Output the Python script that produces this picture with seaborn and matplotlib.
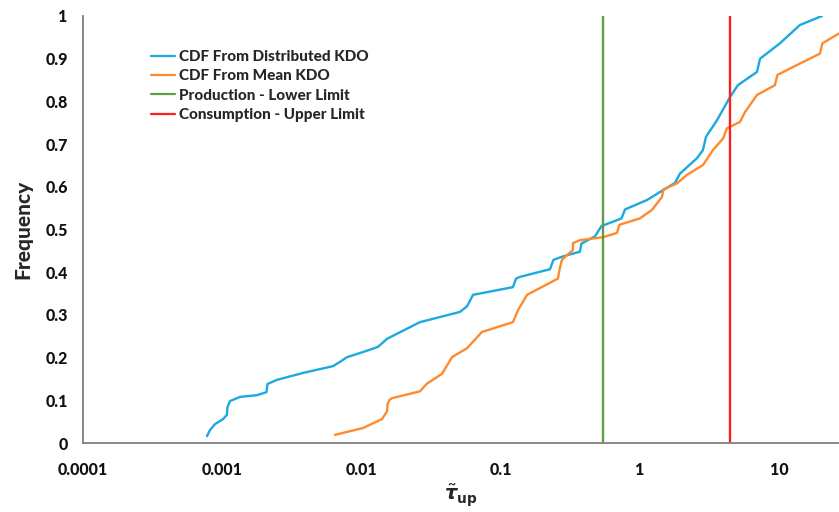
import numpy as np
import pandas as pd
import matplotlib
matplotlib.use("Agg")
import matplotlib.pyplot as plt
import seaborn as sns

# Cumulative distribution of tau_up (distributed KDO)
dist_tau = [0.000778, 0.000816, 0.000887, 0.001014, 0.001081, 0.001091, 0.001137,
            0.001343, 0.001778, 0.002080, 0.002113, 0.002477, 0.003802, 0.006252,
            0.007015, 0.007889, 0.01026, 0.01315, 0.01528, 0.02636, 0.05105, 0.05741,
            0.06339, 0.1227, 0.1291, 0.1377, 0.2265, 0.2399, 0.2805, 0.3715, 0.3811,
            0.4764, 0.5309, 0.7396, 0.7834, 1.127, 1.517, 1.791, 1.945, 2.576, 2.844,
            2.992, 3.589, 4.446, 5.070, 6.950, 7.311, 10.16, 14.16, 20.37]
dist_freq = [0.016, 0.030, 0.044, 0.056, 0.066, 0.084, 0.098, 0.108, 0.112, 0.119,
             0.138, 0.148, 0.164, 0.180, 0.190, 0.201, 0.213, 0.225, 0.244, 0.283,
             0.307, 0.320, 0.347, 0.365, 0.385, 0.389, 0.407, 0.429, 0.437, 0.448,
             0.467, 0.484, 0.508, 0.526, 0.547, 0.569, 0.595, 0.609, 0.631, 0.667,
             0.686, 0.717, 0.756, 0.810, 0.838, 0.869, 0.900, 0.936, 0.979, 1.000]

# Cumulative distribution of tau_up (mean KDO)
mean_tau = [0.006457, 0.01026, 0.01406, 0.01528, 0.01542, 0.01592, 0.01660, 0.02636,
            0.02958, 0.03793, 0.04477, 0.05741, 0.07345, 0.1227, 0.1334, 0.1549,
            0.2582, 0.2673, 0.2761, 0.2999, 0.3311, 0.3311, 0.3715, 0.5445, 0.6855,
            0.7145, 1.002, 1.224, 1.443, 1.479, 1.849, 2.183, 2.844, 3.357, 3.963,
            4.227, 5.248, 5.702, 6.950, 9.354, 9.750, 11.99, 19.72, 20.51, 26.98, 35.16]
mean_freq = [0.019, 0.035, 0.056, 0.074, 0.091, 0.101, 0.105, 0.121, 0.139, 0.162,
             0.201, 0.222, 0.260, 0.283, 0.311, 0.347, 0.385, 0.412, 0.429, 0.440,
             0.452, 0.468, 0.475, 0.482, 0.492, 0.511, 0.526, 0.546, 0.576, 0.594,
             0.608, 0.628, 0.651, 0.686, 0.713, 0.737, 0.752, 0.775, 0.815, 0.838,
             0.862, 0.877, 0.912, 0.936, 0.959, 0.974]

# Limits
production_lower = 0.5445
consumption_upper = 4.446

series_names = ["CDF From Distributed KDO", "CDF From Mean KDO",
                "Production - Lower Limit", "Consumption - Upper Limit"]
series_colors = ["#1BA9E0", "#FF8A2E", "#5E9E44", "#FF1F1F"]

x_ticks = [0.0001, 0.001, 0.01, 0.1, 1, 10]
x_tick_labels = ["0.0001", "0.001", "0.01", "0.1", "1", "10"]
y_ticks = [0, 0.1, 0.2, 0.3, 0.4, 0.5, 0.6, 0.7, 0.8, 0.9, 1]
y_tick_labels = ["0", "0.1", "0.2", "0.3", "0.4", "0.5", "0.6", "0.7", "0.8", "0.9", "1"]

frames = [
    pd.DataFrame({"tau": dist_tau, "freq": dist_freq, "series": series_names[0]}),
    pd.DataFrame({"tau": mean_tau, "freq": mean_freq, "series": series_names[1]}),
    pd.DataFrame({"tau": [production_lower, production_lower], "freq": [0, 1],
                  "series": series_names[2]}),
    pd.DataFrame({"tau": [consumption_upper, consumption_upper], "freq": [0, 1],
                  "series": series_names[3]}),
]
df = pd.concat(frames, ignore_index=True)

sns.set_theme(style="white")
plt.rcParams["font.family"] = ["Lato", "DejaVu Sans"]
plt.rcParams["font.weight"] = "black"
plt.rcParams["lines.solid_joinstyle"] = "round"

fig = plt.figure(figsize=(8.39, 5.12), dpi=100)
ax = fig.add_axes([83 / 839, 1 - 443 / 512, 1 - 83 / 839, (443 - 16) / 512])

sns.lineplot(data=df, x="tau", y="freq", hue="series", hue_order=series_names,
             palette=series_colors, sort=False, estimator=None, units="series",
             linewidth=1.7, ax=ax)

ax.set_xscale("log")
ax.set_xlim(1e-4, 27)
ax.set_ylim(0, 1)
ax.set_xticks(x_ticks)
ax.set_xticklabels(x_tick_labels)
ax.set_yticks(y_ticks)
ax.set_yticklabels(y_tick_labels)
ax.minorticks_off()
ax.tick_params(axis="both", length=0, labelsize=11.5, colors="#111111")
ax.tick_params(axis="x", pad=14)
ax.tick_params(axis="y", pad=11)
for lab in ax.get_xticklabels() + ax.get_yticklabels():
    lab.set_fontweight("black")

for side in ["top", "right"]:
    ax.spines[side].set_visible(False)
for side in ["left", "bottom"]:
    ax.spines[side].set_color("#7F7F7F")
    ax.spines[side].set_linewidth(1.3)

ax.set_ylabel("Frequency", fontsize=15, fontweight="black", labelpad=9)
ax.set_xlabel(r"$\boldsymbol{\tilde{\tau}}_{\mathbf{up}}$", fontsize=14, labelpad=3)

leg = ax.legend(loc="upper left", bbox_to_anchor=(151 / 839, 1 - 50 / 512),
                bbox_transform=fig.transFigure, frameon=False, borderpad=0,
                borderaxespad=0, handlelength=1.6, handletextpad=0.25,
                labelspacing=0.35, prop={"family": "Lato", "weight": "black", "size": 11})
for line in leg.get_lines():
    line.set_linewidth(1.6)

fig.savefig("out.png", dpi=100)
